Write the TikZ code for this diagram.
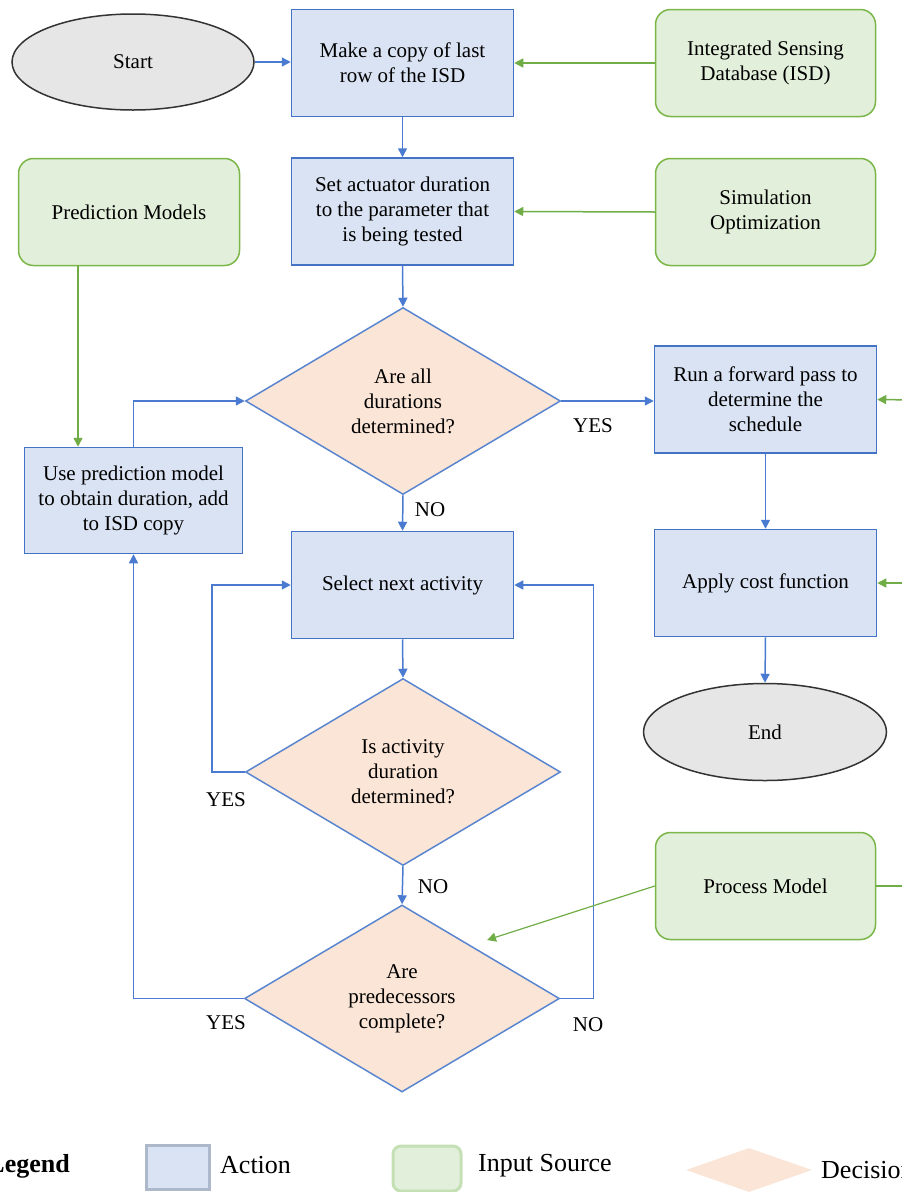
\documentclass[tikz,border=0pt]{standalone}
\usepackage{fontspec}
\setmainfont{Liberation Serif}
\usetikzlibrary{shapes.geometric,arrows.meta}

\definecolor{actfill}{HTML}{DAE3F3}
\definecolor{actdraw}{HTML}{4472C4}
\definecolor{infill}{HTML}{E2EFDA}
\definecolor{indraw}{HTML}{7AB648}
\definecolor{decfill}{HTML}{FBE5D6}
\definecolor{decdraw}{HTML}{5A86D0}
\definecolor{termfill}{HTML}{E6E6E6}
\definecolor{termdraw}{HTML}{333333}
\definecolor{conn}{HTML}{4A7BD0}
\definecolor{gconn}{HTML}{70AD47}
\definecolor{legact}{HTML}{ADB9CA}
\definecolor{legin}{HTML}{C5E0B4}

\begin{document}
\begin{tikzpicture}[x=1pt,y=-1pt,
 txt/.style={font=\fontsize{21}{25}\selectfont, align=center},
 action/.style={txt, draw=actdraw, fill=actfill, line width=1.5pt, minimum width=222pt, minimum height=107pt, inner sep=0pt},
 input/.style={txt, draw=indraw, fill=infill, line width=1.5pt, rounded corners=15pt, minimum width=220pt, minimum height=107pt, inner sep=0pt},
 decision/.style={txt, diamond, draw=decdraw, fill=decfill, line width=1.5pt, minimum width=315pt, minimum height=187pt, inner sep=0pt},
 term/.style={txt, ellipse, draw=termdraw, fill=termfill, line width=1.5pt, minimum width=242pt, minimum height=96pt, inner sep=0pt},
 flow/.style={draw=conn, line width=1.5pt, -{Triangle[length=9pt,width=9pt]}},
 gflow/.style={draw=gconn, line width=1.5pt, -{Triangle[length=9pt,width=9pt]}},
 gline/.style={draw=gconn, line width=1.5pt},
 lbl/.style={font=\fontsize{21}{25}\selectfont, inner sep=0pt},
 legtxt/.style={font=\fontsize{26}{30}\selectfont, inner sep=0pt, anchor=west}
]
\clip (0,0) rectangle (902,1192);

% nodes
\node[term] (start) at (133,62) {Start};
\node[action] (copy) at (402.5,63) {Make a copy of last\\row of the ISD};
\node[input] (isd) at (765.5,63) {Integrated Sensing\\Database (ISD)};
\node[action] (setact) at (402.5,211.5) {Set actuator duration\\to the parameter that\\is being tested};
\node[input] (simopt) at (765.5,212) {Simulation\\Optimization};
\node[input, minimum width=221pt] (predm) at (129,212) {Prediction Models};
\node[decision] (d1) at (403,401) {Are all\\durations\\determined?};
\node[action] (run) at (765.5,399.5) {Run a forward pass to\\determine the\\schedule};
\node[action, minimum width=218pt, minimum height=106pt] (usepred) at (133.5,500.5) {Use prediction model\\to obtain duration, add\\to ISD copy};
\node[action] (select) at (402.5,585) {Select next activity};
\node[action] (cost) at (765.5,583) {Apply cost function};
\node[term, minimum width=243pt, minimum height=97pt] (endn) at (765,732) {End};
\node[decision] (d2) at (403,772) {Is activity\\duration\\determined?};
\node[input] (proc) at (765.5,886) {Process Model};
\node[decision] (d3) at (402,998.5) {Are\\predecessors\\complete?};

% free ends
\coordinate (rin1) at (915,400);
\coordinate (rin2) at (915,583);
\coordinate (rout) at (915,886);
\coordinate (ptgt) at (487,940);
\coordinate (pmx) at (78,0);

% connectors
\draw[flow] (start.east) -- (start.east -| copy.west);
\draw[gflow] (isd.west) -- (copy.east);
\draw[flow] (copy.south) -- (setact.north);
\draw[gflow] (simopt.west) -- (setact.east);
\draw[flow] (setact.south) -- (d1.north);
\draw[flow] (d1.east) -- (d1.east -| run.west);
\draw[flow] (d1.south) -- (select.north);
\draw[gflow] (predm.south -| pmx) -- (usepred.north -| pmx);
\draw[flow] (usepred.north) |- (d1.west);
\draw[flow] (run.south) -- (cost.north);
\draw[flow] (cost.south) -- (endn.north);
\draw[gflow] (rin1) -- (run.east);
\draw[gflow] (rin2) -- (cost.east);
\draw[gline] (proc.east) -- (rout);
\draw[flow] (select.south) -- (d2.north);
\draw[flow] (d2.west) -- ++(-33,0) |- (select.west);
\draw[flow] (d2.south) -- (d3.north);
\draw[flow] (d3.west) -| (usepred.south);
\draw[flow] (d3.east) -- ++(33,0) |- (select.east);
\draw[gflow, line width=1.2pt] (proc.west) -- (ptgt);

% labels
\node[lbl] (l1) at (593,426) {YES};
\node[lbl] (l2) at (430,510) {NO};
\node[lbl] (l3) at (226,800) {YES};
\node[lbl] (l4) at (433,887) {NO};
\node[lbl] (l5) at (226,1023) {YES};
\node[lbl] (l6) at (588,1025) {NO};

% legend
\node[font=\bfseries\fontsize{26}{30}\selectfont, anchor=east, inner sep=0pt] (leg) at (70,1166) {Legend};
\node[draw=legact, fill=actfill, line width=3pt, minimum width=63pt, minimum height=44pt, inner sep=0pt] (lact) at (177.5,1167.5) {};
\node[legtxt] (lacttxt) at (220,1165) {Action};
\node[draw=legin, fill=infill, line width=3pt, rounded corners=8pt, minimum width=68pt, minimum height=45pt, inner sep=0pt] (lin) at (427,1168.5) {};
\node[legtxt] (lintxt) at (478,1166) {Input Source};
\node[diamond, fill=decfill, minimum width=126pt, minimum height=44pt, inner sep=0pt] (ldec) at (749,1170) {};
\node[legtxt] (ldectxt) at (821,1170) {Decision};
\end{tikzpicture}
\end{document}
